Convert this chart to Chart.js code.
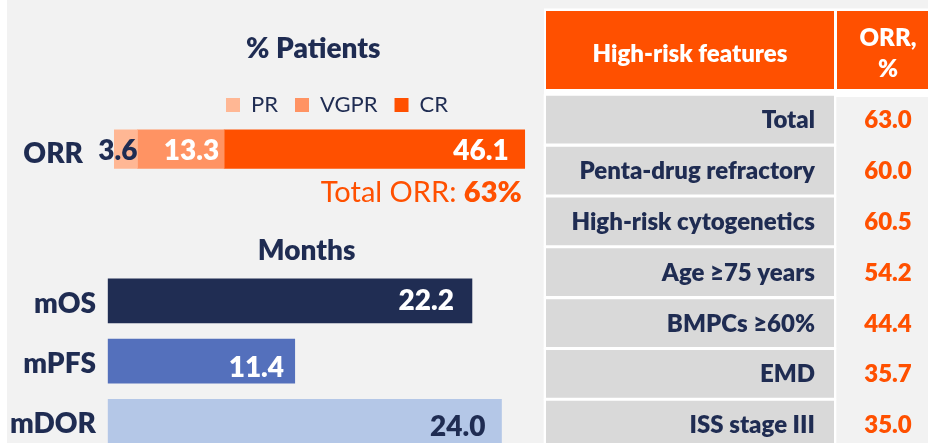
<!DOCTYPE html>
<html><head><meta charset="utf-8">
<script src="https://cdn.jsdelivr.net/npm/chart.js@4.4.1/dist/chart.umd.min.js"></script>
<style>
html,body{margin:0;padding:0;width:928px;height:443px;overflow:hidden;background:#f2f2f2;}
#edge{position:absolute;left:0;top:0;width:7px;height:443px;background:#fff;}
canvas{position:absolute;}
#orr{left:0;top:0;}
#months{left:0;top:220px;}
#table{left:540px;top:0;}
</style></head><body>
<div id="edge"></div>
<canvas id="orr" width="674" height="220"></canvas>
<canvas id="months" width="543" height="260"></canvas>
<canvas id="table" width="388" height="460"></canvas>
<script>
// ---------- DATA ----------
const orrCategories = ['ORR'];
const responseLabels = ['PR', 'VGPR', 'CR'];
const responseValues = [3.6, 13.3, 46.1];
const totalOrr = 63;
const survivalCategories = ['mOS', 'mPFS', 'mDOR'];
const survivalValues = [22.2, 11.4, 24.0];
const riskFeatures = ['Total', 'Penta-drug refractory', 'High-risk cytogenetics', 'Age ≥75 years', 'BMPCs ≥60%', 'EMD', 'ISS stage III'];
const riskOrr = [63.0, 60.0, 60.5, 54.2, 44.4, 35.7, 35.0];
const tableHeaders = ['High-risk features', 'ORR,\n%'];
const orrTitle = '% Patients';
const survivalTitle = 'Months';

// ---------- STYLE ----------
const NAVY = '#1F2C52';
const ORANGE = '#FF5000';
const FONT = 'Lato';
const BOLD = '800';
const orrColors = ['#FFB794', '#FF9363', '#FF5000'];
const survivalColors = ['#202D53', '#5470BC', '#B4C7E7'];

const barLabelPlugin = {
  id: 'barLabels',
  afterDatasetsDraw(chart, args, opts) {
    const ctx = chart.ctx;
    ctx.save();
    ctx.font = `${BOLD} ${opts.size}px ${FONT}`;
    ctx.textAlign = 'right';
    ctx.textBaseline = 'alphabetic';
    chart.data.datasets.forEach((ds, di) => {
      const meta = chart.getDatasetMeta(di);
      meta.data.forEach((el, i) => {
        const st = opts.styles[opts.byDataset ? di : i];
        ctx.fillStyle = st.color;
        ctx.fillText(Number(ds.data[i]).toFixed(1), el.x - st.pad, el.y + st.dy + opts.size * 0.358);
      });
    });
    ctx.restore();
  }
};

function drawCentered(ctx, text, x, cy, font, color, align) {
  ctx.save();
  ctx.font = font;
  ctx.fillStyle = color;
  ctx.textAlign = align || 'center';
  ctx.textBaseline = 'alphabetic';
  const size = parseFloat(font.match(/(\d+(\.\d+)?)px/)[1]);
  ctx.fillText(text, x, cy + size * 0.358);
  ctx.restore();
}

function init() {
  // ---------- ORR stacked bar ----------
  new Chart(document.getElementById('orr'), {
    type: 'bar',
    data: {
      labels: orrCategories,
      datasets: responseLabels.map((l, i) => ({
        label: l, data: [responseValues[i]], backgroundColor: orrColors[i],
        borderWidth: 0, barThickness: 38.4
      }))
    },
    options: {
      responsive: false, animation: false, indexAxis: 'y',
      layout: { padding: { top: 77, bottom: 42, left: 0, right: 0 } },
      scales: {
        x: { stacked: true, display: false, min: 0, max: 85.9 },
        y: {
          stacked: true, grid: { display: false, drawTicks: false }, border: { display: false },
          ticks: { color: NAVY, font: { family: FONT, weight: BOLD, size: 28 }, padding: 31, labelOffset: 5 },
          afterFit(s) { s.width = 114; }
        }
      },
      plugins: {
        legend: {
          position: 'top',
          labels: { boxWidth: 14, boxHeight: 14, padding: 17, color: NAVY, font: { family: FONT, size: 22 } }
        },
        tooltip: { enabled: false },
        barLabels: {
          size: 28, byDataset: true,
          styles: [{ color: NAVY, pad: 0, dy: 1 }, { color: '#FFFFFF', pad: 5, dy: 1 }, { color: '#FFFFFF', pad: 16, dy: 1 }]
        }
      }
    },
    plugins: [barLabelPlugin, {
      id: 'orrText',
      afterDraw(chart) {
        const ctx = chart.ctx;
        drawCentered(ctx, orrTitle, 313.3, 47.5, `${BOLD} 28px ${FONT}`, NAVY);
        const xr = chart.scales.x.getPixelForValue(totalOrr) - 3;
        const boldPart = totalOrr + '%';
        ctx.save();
        ctx.font = `${BOLD} 29px ${FONT}`;
        const w = ctx.measureText(boldPart).width;
        ctx.restore();
        drawCentered(ctx, boldPart, xr, 192, `${BOLD} 29px ${FONT}`, ORANGE, 'right');
        drawCentered(ctx, 'Total ORR: ', xr - w, 192, `29px ${FONT}`, ORANGE, 'right');
      }
    }]
  });

  // ---------- Survival bars ----------
  new Chart(document.getElementById('months'), {
    type: 'bar',
    data: {
      labels: survivalCategories,
      datasets: [{ data: survivalValues, backgroundColor: survivalColors, borderWidth: 0, barThickness: 44 }]
    },
    options: {
      responsive: false, animation: false, indexAxis: 'y',
      layout: { padding: { top: 50.8, bottom: 23.2, left: 0, right: 0 } },
      scales: {
        x: { display: false, min: 0, max: 26.53 },
        y: {
          grid: { display: false, drawTicks: false }, border: { display: false },
          ticks: { color: NAVY, font: { family: FONT, weight: BOLD, size: 28 }, padding: 11.7, labelOffset: 3 },
          afterFit(s) { s.width = 107.7; }
        }
      },
      plugins: {
        legend: { display: false }, tooltip: { enabled: false },
        barLabels: {
          size: 28, byDataset: false,
          styles: [{ color: '#FFFFFF', pad: 18, dy: -1 }, { color: '#FFFFFF', pad: 10.7, dy: 5.7 }, { color: NAVY, pad: 16, dy: 5 }]
        }
      }
    },
    plugins: [barLabelPlugin, {
      id: 'monthsTitle',
      afterDraw(chart) { drawCentered(chart.ctx, survivalTitle, 306.7, 30, `${BOLD} 28px ${FONT}`, NAVY); }
    }]
  });

  // ---------- Table ----------
  new Chart(document.getElementById('table'), {
    type: 'bar',
    data: {
      labels: riskFeatures,
      datasets: [
        { data: riskFeatures.map(() => [0, 288]), backgroundColor: '#D9D9D9', borderWidth: 0, barPercentage: 0.94, categoryPercentage: 1, grouped: false },
        { data: riskFeatures.map(() => [-2, 290]), backgroundColor: '#FFFFFF', borderWidth: 0, barPercentage: 1, categoryPercentage: 1, grouped: false }
      ]
    },
    options: {
      responsive: false, animation: false, indexAxis: 'y',
      layout: { padding: { top: 94.3, bottom: 9.9, left: 0, right: 0 } },
      scales: {
        x: { display: false, min: -6, max: 382 },
        y: { display: false }
      },
      plugins: { legend: { display: false }, tooltip: { enabled: false } }
    },
    plugins: [{
      id: 'tableText',
      beforeDatasetsDraw(chart) {
        const ctx = chart.ctx, xs = chart.scales.x;
        ctx.save();
        ctx.fillStyle = '#FFFFFF';
        ctx.fillRect(xs.getPixelForValue(-2), 8.5, xs.getPixelForValue(382) - xs.getPixelForValue(-2), 97 - 8.5);
        ctx.fillStyle = ORANGE;
        ctx.fillRect(xs.getPixelForValue(0), 11, xs.getPixelForValue(288) - xs.getPixelForValue(0), 78);
        ctx.fillRect(xs.getPixelForValue(291), 11, xs.getPixelForValue(382) - xs.getPixelForValue(291), 78);
        ctx.restore();
        drawCentered(ctx, tableHeaders[0], xs.getPixelForValue(144), 53.3, `${BOLD} 24px ${FONT}`, '#FFFFFF');
        const lines = tableHeaders[1].split('\n');
        drawCentered(ctx, lines[0], xs.getPixelForValue(342), 37, `${BOLD} 24px ${FONT}`, '#FFFFFF');
        drawCentered(ctx, lines[1], xs.getPixelForValue(342), 68.5, `${BOLD} 24px ${FONT}`, '#FFFFFF');
      },
      afterDatasetsDraw(chart) {
        const ctx = chart.ctx, xs = chart.scales.x, ys = chart.scales.y;
        riskFeatures.forEach((f, i) => {
          const cy = ys.getPixelForValue(i);
          drawCentered(ctx, f, xs.getPixelForValue(288) - 19, cy, `${BOLD} 24px ${FONT}`, NAVY, 'right');
          drawCentered(ctx, riskOrr[i].toFixed(1), xs.getPixelForValue(342), cy, `${BOLD} 24px ${FONT}`, ORANGE);
        });
      }
    }]
  });
}

Promise.all([
  document.fonts.load(`${BOLD} 28px ${FONT}`),
  document.fonts.load(`bold 28px ${FONT}`),
  document.fonts.load(`28px ${FONT}`)
]).then(init, init);
</script>
</body></html>
